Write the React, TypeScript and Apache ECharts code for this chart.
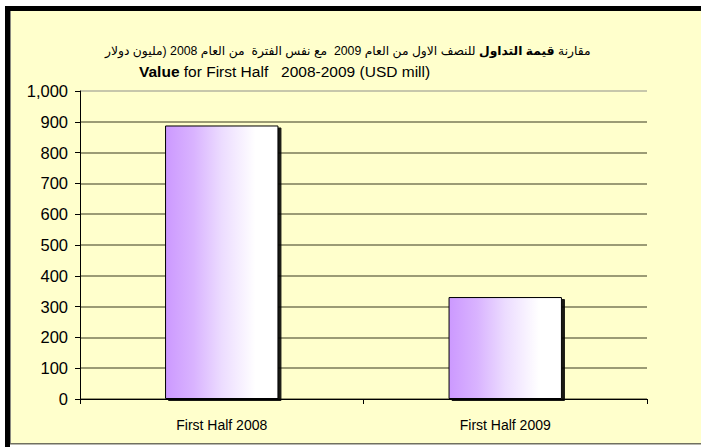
import React, { useEffect, useRef } from "react";
import * as echarts from "echarts";

const categories = ["First Half 2008", "First Half 2009"];
const values = [888, 331];
const yTicks = [0, 100, 200, 300, 400, 500, 600, 700, 800, 900, 1000];
const titleArabicPlain = "للنصف الاول من العام 2009  مع نفس الفترة  من العام 2008 (مليون دولار";
const titleArabicBold = "قيمة التداول";
const titleArabicStart = "مقارنة";
const titleEnBold = "Value";
const titleEnPlain = " for First Half   2008-2009 (USD mill)";

export default function App() {
  const ref = useRef<HTMLDivElement>(null);
  useEffect(() => {
    if (!ref.current) return;
    const chart = echarts.init(ref.current, null, { renderer: "svg" });
    const gridColors = yTicks.map((t, i) => (i === yTicks.length - 1 ? "#b5b5a0" : "#7a7a58"));
    const arFont = "Arial, 'DejaVu Sans', sans-serif";
    const enFont = "'Liberation Sans', Arial, sans-serif";
    chart.setOption({
      animation: false,
      backgroundColor: "#ffffff",
      graphic: [
        { type: "rect", z: -9, shape: { x: 10, y: 11, width: 691, height: 432 }, style: { fill: "#ffffcc" } },
        { type: "rect", z: -8, shape: { x: 5, y: 6, width: 5, height: 441 }, style: { fill: "#000000" } },
        { type: "rect", z: -8, shape: { x: 5, y: 6, width: 696, height: 5 }, style: { fill: "#000000" } },
        { type: "rect", z: -8, shape: { x: 10, y: 11, width: 1, height: 432 }, style: { fill: "#8a8a80" } },
        { type: "rect", z: -8, shape: { x: 10, y: 443, width: 691, height: 1.5 }, style: { fill: "#707060" } },
        {
          type: "text",
          left: 105,
          top: 45,
          style: {
            text:
              "{a|" + titleArabicPlain + "}{a| }{b|" + titleArabicBold + "}{a| }{a|" + titleArabicStart + "}",
            rich: {
              a: { fontFamily: arFont, fontSize: 12.3, fill: "#000" },
              b: { fontFamily: arFont, fontSize: 12.3, fontWeight: "bold", fill: "#000" },
            },
          },
        },
        {
          type: "text",
          left: 139,
          top: 63,
          style: {
            text: "{b|" + titleEnBold + "}{a|" + titleEnPlain + "}",
            rich: {
              a: { fontFamily: enFont, fontSize: 15.5, fill: "#000" },
              b: { fontFamily: enFont, fontSize: 15.5, fontWeight: "bold", fill: "#000" },
            },
          },
        },
      ],
      grid: { left: 80, top: 91, width: 567, height: 308, containLabel: false },
      xAxis: {
        type: "category",
        data: categories,
        axisLine: { lineStyle: { color: "#000", width: 1 } },
        axisTick: { show: true, alignWithLabel: false, length: 5, lineStyle: { color: "#000" } },
        axisLabel: { color: "#000", fontFamily: enFont, fontSize: 14, margin: 19 },
      },
      yAxis: {
        type: "value",
        min: 0,
        max: 1000,
        interval: 100,
        axisLine: { show: true, lineStyle: { color: "#000", width: 1 } },
        axisTick: { show: true, length: 5, lineStyle: { color: "#000" } },
        axisLabel: {
          color: "#000",
          fontFamily: enFont,
          fontSize: 16.5,
          margin: 12,
          formatter: (v: number) => v.toLocaleString("en-US"),
        },
        splitLine: { show: true, lineStyle: { color: gridColors, width: 1.5 } },
      },
      series: [
        {
          type: "bar",
          data: values,
          barWidth: "40%",
          itemStyle: {
            color: new echarts.graphic.LinearGradient(0, 0, 1, 0, [
              { offset: 0, color: "#cc99ff" },
              { offset: 0.25, color: "#d9b3ff" },
              { offset: 0.5, color: "#ecdcff" },
              { offset: 0.8, color: "#ffffff" },
              { offset: 1, color: "#ffffff" },
            ]),
            borderColor: "#000",
            borderWidth: 1,
            shadowColor: "rgba(0,0,0,0.9)",
            shadowBlur: 0,
            shadowOffsetX: 3,
            shadowOffsetY: 2,
          },
        },
      ],
    });
    return () => chart.dispose();
  }, []);
  return (
    <div
      ref={ref}
      style={{ position: "absolute", left: 0, top: 0, width: 701, height: 447 }}
    />
  );
}
